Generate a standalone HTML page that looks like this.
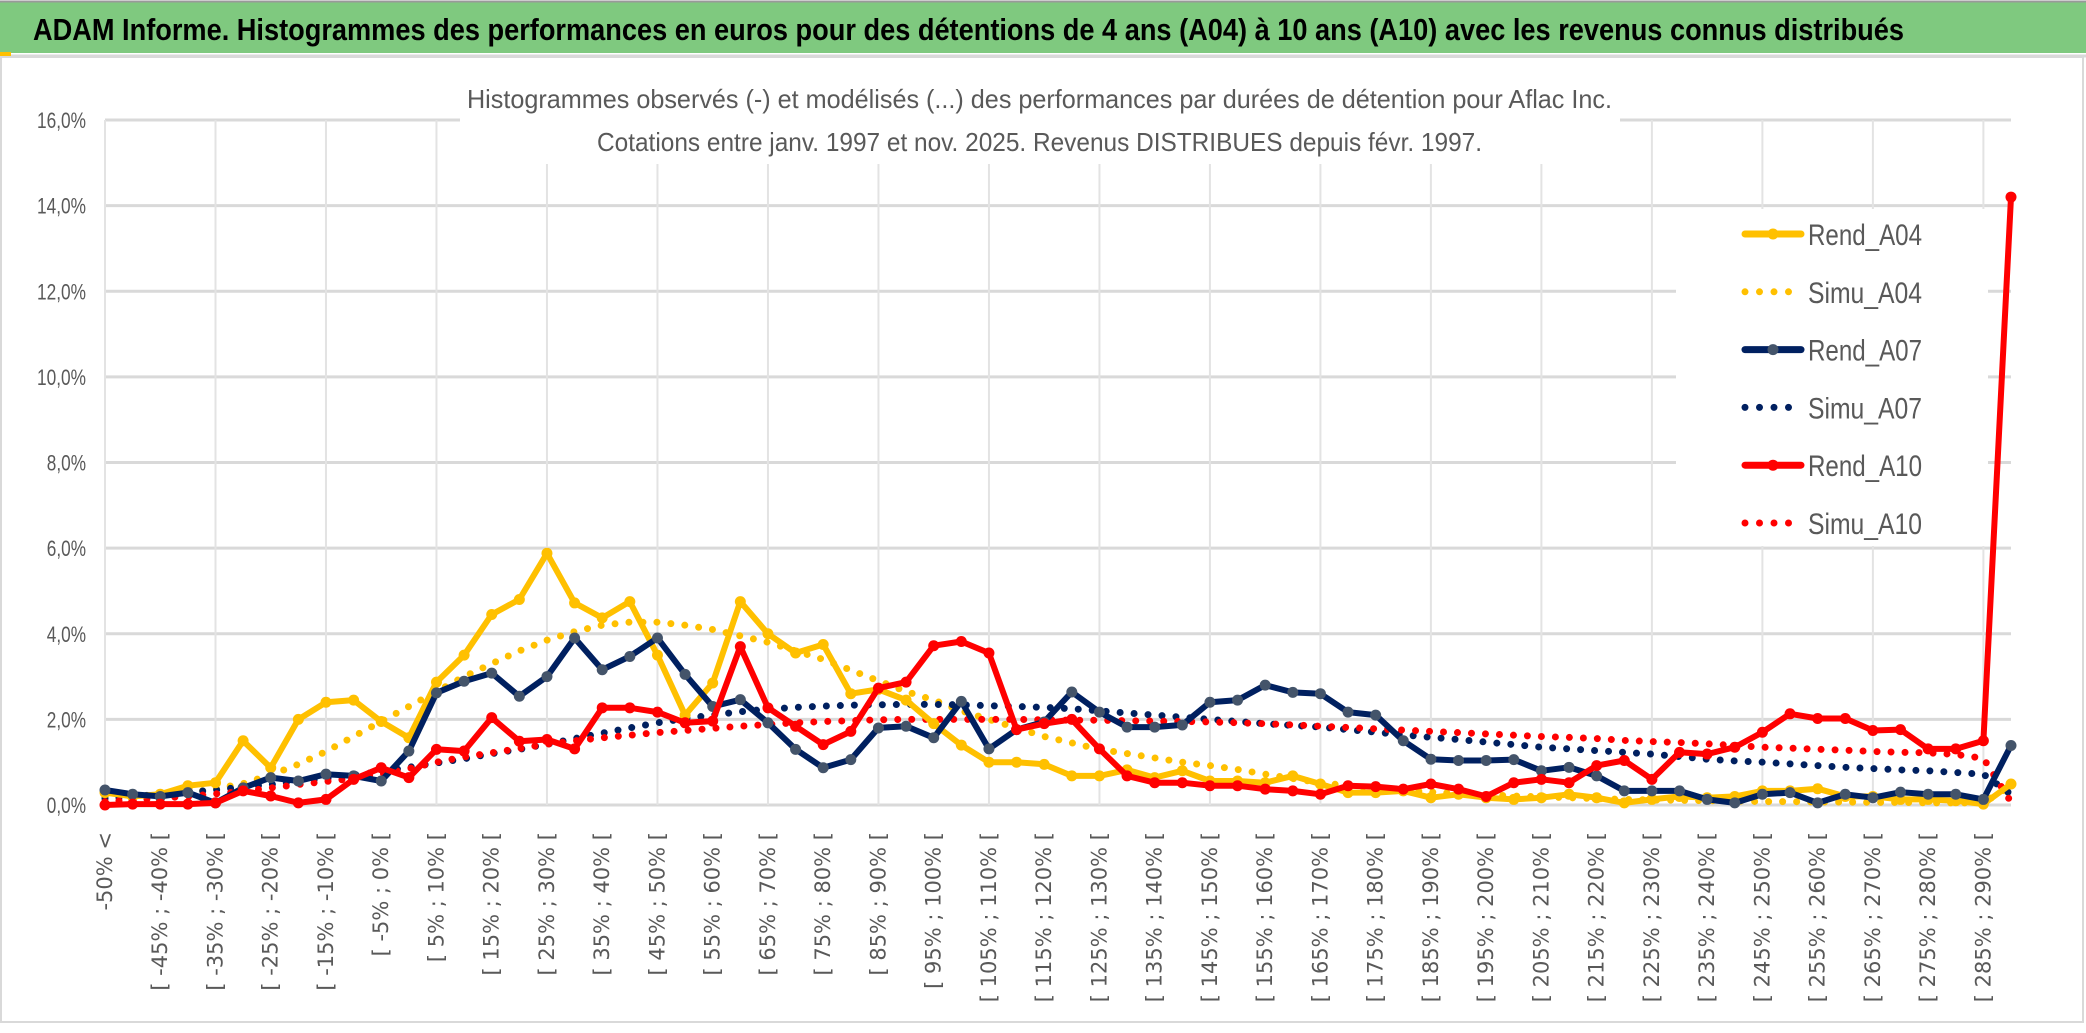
<!DOCTYPE html>
<html><head><meta charset="utf-8"><style>
html,body{margin:0;padding:0;background:#fff;}
svg{display:block;}
</style></head><body>
<svg id="chart" width="2086" height="1033" viewBox="0 0 2086 1033" xmlns="http://www.w3.org/2000/svg">
<rect x="0" y="0" width="2086" height="1033" fill="#fff"/>
<rect x="0" y="2" width="2086" height="51" fill="#7fc97f"/>
<line x1="0" y1="1.5" x2="2086" y2="1.5" stroke="#999" stroke-width="2"/>
<text x="33" y="40" font-family="Liberation Sans, sans-serif" font-weight="bold" font-size="31" fill="#000" textLength="1871" lengthAdjust="spacingAndGlyphs">ADAM Informe. Histogrammes des performances en euros pour des détentions de 4 ans (A04) à 10 ans (A10) avec les revenus connus distribués</text>
<line x1="0" y1="56" x2="2086" y2="56" stroke="#d9d9d9" stroke-width="3"/>
<rect x="0" y="52" width="11" height="4" fill="#ffc000"/>
<rect x="1" y="57" width="2082" height="965" fill="none" stroke="#d9d9d9" stroke-width="2"/>
<g id="grid"></g>
<g id="yticks"></g>
<g id="xticks"></g>
<rect x="460" y="82" width="1160" height="82" fill="#fff"/>
<text x="467" y="108" font-family="Liberation Sans, sans-serif" font-size="26" fill="#595959" textLength="1145" lengthAdjust="spacingAndGlyphs">Histogrammes observés (-) et modélisés (...) des performances par durées de détention pour Aflac Inc.</text>
<text x="597" y="151" font-family="Liberation Sans, sans-serif" font-size="26" fill="#595959" textLength="885" lengthAdjust="spacingAndGlyphs">Cotations entre janv. 1997 et nov. 2025. Revenus DISTRIBUES depuis févr. 1997.</text>
<rect x="1676" y="209" width="312" height="337" fill="#fff"/>
<g id="series"></g>
<g id="legend"></g>
</svg>
<script>
const categories = ["-50% <","[ -50% ; -45% [","[ -45% ; -40% [","[ -40% ; -35% [","[ -35% ; -30% [","[ -30% ; -25% [","[ -25% ; -20% [","[ -20% ; -15% [","[ -15% ; -10% [","[ -10% ; -5% [","[ -5% ; 0% [","[ 0% ; 5% [","[ 5% ; 10% [","[ 10% ; 15% [","[ 15% ; 20% [","[ 20% ; 25% [","[ 25% ; 30% [","[ 30% ; 35% [","[ 35% ; 40% [","[ 40% ; 45% [","[ 45% ; 50% [","[ 50% ; 55% [","[ 55% ; 60% [","[ 60% ; 65% [","[ 65% ; 70% [","[ 70% ; 75% [","[ 75% ; 80% [","[ 80% ; 85% [","[ 85% ; 90% [","[ 90% ; 95% [","[ 95% ; 100% [","[ 100% ; 105% [","[ 105% ; 110% [","[ 110% ; 115% [","[ 115% ; 120% [","[ 120% ; 125% [","[ 125% ; 130% [","[ 130% ; 135% [","[ 135% ; 140% [","[ 140% ; 145% [","[ 145% ; 150% [","[ 150% ; 155% [","[ 155% ; 160% [","[ 160% ; 165% [","[ 165% ; 170% [","[ 170% ; 175% [","[ 175% ; 180% [","[ 180% ; 185% [","[ 185% ; 190% [","[ 190% ; 195% [","[ 195% ; 200% [","[ 200% ; 205% [","[ 205% ; 210% [","[ 210% ; 215% [","[ 215% ; 220% [","[ 220% ; 225% [","[ 225% ; 230% [","[ 230% ; 235% [","[ 235% ; 240% [","[ 240% ; 245% [","[ 245% ; 250% [","[ 250% ; 255% [","[ 255% ; 260% [","[ 260% ; 265% [","[ 265% ; 270% [","[ 270% ; 275% [","[ 275% ; 280% [","[ 280% ; 285% [","[ 285% ; 290% [","290% >="];
const yTickValues = [0,2,4,6,8,10,12,14,16];
const yTickLabels = ["0,0%","2,0%","4,0%","6,0%","8,0%","10,0%","12,0%","14,0%","16,0%"];
const rendA04 = [0.29,0.2,0.25,0.45,0.52,1.5,0.87,2.0,2.4,2.45,1.95,1.57,2.87,3.5,4.45,4.8,5.88,4.72,4.37,4.75,3.5,2.1,2.85,4.75,4.0,3.55,3.75,2.6,2.7,2.45,1.9,1.4,1.0,1.0,0.95,0.68,0.68,0.82,0.64,0.8,0.56,0.56,0.52,0.68,0.49,0.29,0.29,0.33,0.17,0.25,0.17,0.13,0.17,0.25,0.17,0.05,0.13,0.2,0.17,0.2,0.33,0.33,0.38,0.2,0.2,0.13,0.13,0.1,0.02,0.49];
const simuA04 = [0.2,0.18,0.2,0.28,0.38,0.5,0.7,0.95,1.25,1.6,1.95,2.3,2.65,3.0,3.3,3.6,3.85,4.05,4.2,4.27,4.27,4.2,4.1,3.95,3.8,3.6,3.4,3.15,2.9,2.65,2.45,2.2,2.0,1.8,1.6,1.45,1.3,1.2,1.1,1.0,0.92,0.83,0.72,0.62,0.52,0.45,0.4,0.35,0.3,0.27,0.24,0.21,0.19,0.17,0.15,0.13,0.12,0.11,0.1,0.09,0.08,0.08,0.07,0.07,0.06,0.06,0.05,0.05,0.05,0.45];
const rendA07 = [0.35,0.25,0.2,0.29,0.05,0.4,0.64,0.56,0.72,0.68,0.56,1.26,2.62,2.89,3.08,2.54,3.0,3.9,3.16,3.47,3.9,3.05,2.3,2.46,1.92,1.3,0.87,1.06,1.8,1.84,1.57,2.42,1.31,1.76,1.94,2.64,2.17,1.82,1.82,1.87,2.4,2.45,2.8,2.63,2.6,2.17,2.1,1.5,1.07,1.04,1.04,1.06,0.8,0.88,0.68,0.33,0.33,0.33,0.13,0.05,0.25,0.29,0.05,0.25,0.17,0.3,0.25,0.25,0.13,1.39];
const simuA07 = [0.15,0.2,0.25,0.3,0.35,0.42,0.48,0.55,0.62,0.7,0.78,0.88,0.98,1.08,1.2,1.3,1.42,1.55,1.68,1.8,1.92,2.02,2.1,2.18,2.24,2.28,2.31,2.33,2.34,2.35,2.35,2.34,2.32,2.3,2.28,2.25,2.2,2.15,2.1,2.05,2.0,1.95,1.9,1.86,1.82,1.76,1.7,1.64,1.58,1.53,1.47,1.41,1.35,1.31,1.27,1.23,1.19,1.13,1.07,1.03,1.0,0.96,0.92,0.88,0.85,0.82,0.8,0.76,0.72,0.25];
const rendA10 = [0,0.02,0.02,0.02,0.05,0.33,0.21,0.05,0.13,0.6,0.87,0.64,1.3,1.26,2.04,1.49,1.53,1.31,2.27,2.27,2.17,1.92,1.96,3.7,2.27,1.84,1.41,1.72,2.73,2.87,3.72,3.82,3.55,1.76,1.9,2.0,1.31,0.68,0.52,0.52,0.45,0.45,0.37,0.33,0.25,0.45,0.43,0.37,0.49,0.37,0.2,0.52,0.6,0.52,0.92,1.04,0.6,1.23,1.19,1.35,1.7,2.13,2.02,2.02,1.74,1.76,1.31,1.31,1.5,14.2];
const simuA10 = [0.08,0.12,0.16,0.2,0.26,0.32,0.4,0.48,0.55,0.62,0.72,0.85,1.0,1.12,1.22,1.32,1.42,1.5,1.57,1.63,1.69,1.74,1.79,1.84,1.88,1.92,1.95,1.97,1.99,2.0,2.0,2.0,2.0,2.0,1.99,1.98,1.98,1.97,1.96,1.95,1.94,1.92,1.9,1.87,1.84,1.81,1.78,1.75,1.72,1.69,1.66,1.63,1.6,1.58,1.55,1.51,1.48,1.46,1.43,1.39,1.35,1.33,1.3,1.28,1.25,1.23,1.22,1.18,1.09,0.07];

const NS="http://www.w3.org/2000/svg";
const X0=105, X1=2011, Y0=805, YTOP=120, YMAX=16;
const step=(X1-X0)/(categories.length-1);
function xScale(i){return X0+i*step;}
function yScale(v){return Y0-(v/YMAX)*(Y0-YTOP);}
function mk(tag,parent,attrs){const e=document.createElementNS(NS,tag);for(const k in attrs)e.setAttribute(k,attrs[k]);parent.appendChild(e);return e;}

const grid=document.getElementById('grid');
yTickValues.forEach(v=>{
  const l=mk('line',grid,{x1:X0,x2:X1,y1:yScale(v),y2:yScale(v),stroke:'#d9d9d9','stroke-width':3});
  
  
});
for(let i=0;i<categories.length;i+=4){
  const l=mk('line',grid,{x1:xScale(i),x2:xScale(i),y1:YTOP,y2:Y0,stroke:'#e3e3e3','stroke-width':2});
  
  
}
const yt=document.getElementById('yticks');
yTickValues.forEach((v,k)=>{
  const t=mk('text',yt,{x:86,y:yScale(v)+8,'text-anchor':'end','font-family':'Liberation Sans, sans-serif','font-size':22,fill:'#595959',textLength:yTickLabels[k].length*9.8,lengthAdjust:'spacingAndGlyphs'});
  t.textContent=yTickLabels[k];
  
  
});
const xt=document.getElementById('xticks');
categories.forEach((c,i)=>{
  if(i%2!==0) return;
  const x=xScale(i), y=832;
  const t=mk('text',xt,{x:x,y:y,transform:`rotate(-90 ${x} ${y})`,'text-anchor':'end','dominant-baseline':'central','font-family':'DejaVu Sans, sans-serif','font-size':21,fill:'#595959'});
  t.textContent=c;
  
  
});

const ser=document.getElementById('series');
function pts(arr){return arr.map((v,i)=>xScale(i).toFixed(1)+','+yScale(v).toFixed(1)).join(' ');}
function dotted(arr,color,name){
  const p=mk('polyline',ser,{points:pts(arr),fill:'none',stroke:color,'stroke-width':7,'stroke-linecap':'round','stroke-linejoin':'round','stroke-dasharray':'0 14'});
  
  
}
function solid(arr,color,mcolor,name){
  const g=mk('g',ser,{});
  
  
  mk('polyline',g,{points:pts(arr),fill:'none',stroke:color,'stroke-width':6,'stroke-linejoin':'round'});
  arr.forEach((v,i)=>{
    const c=mk('circle',g,{cx:xScale(i),cy:yScale(v),r:5.5,fill:mcolor});
    
    
  });
}
dotted(simuA04,'#ffc000','simu-a04-line');
dotted(simuA07,'#002060','simu-a07-line');
dotted(simuA10,'#ff0000','simu-a10-line');
solid(rendA04,'#ffc000','#ffc000','rend-a04-line');
solid(rendA07,'#002060','#44546a','rend-a07-line');
solid(rendA10,'#ff0000','#ff0000','rend-a10-line');

const legendNames=["Rend_A04","Simu_A04","Rend_A07","Simu_A07","Rend_A10","Simu_A10"];
const legendColors=['#ffc000','#ffc000','#002060','#002060','#ff0000','#ff0000'];
const legendMarkers=['#ffc000',null,'#44546a',null,'#ff0000',null];
const lg=document.getElementById('legend');
legendNames.forEach((n,k)=>{
  const y=234+k*57.8;
  const g=mk('g',lg,{});
  
  
  if(legendMarkers[k]){
    mk('line',g,{x1:1745,x2:1801,y1:y,y2:y,stroke:legendColors[k],'stroke-width':7,'stroke-linecap':'round'});
    mk('circle',g,{cx:1773,cy:y,r:5.5,fill:legendMarkers[k]});
  } else {
    mk('line',g,{x1:1745,x2:1803,y1:y,y2:y,stroke:legendColors[k],'stroke-width':7,'stroke-linecap':'round','stroke-dasharray':'0 14.5'});
  }
  const t=mk('text',g,{x:1808,y:y+11,'font-family':'Liberation Sans, sans-serif','font-size':30,fill:'#595959',textLength:114,lengthAdjust:'spacingAndGlyphs'});
  t.textContent=n;
});
</script>
</body></html>
